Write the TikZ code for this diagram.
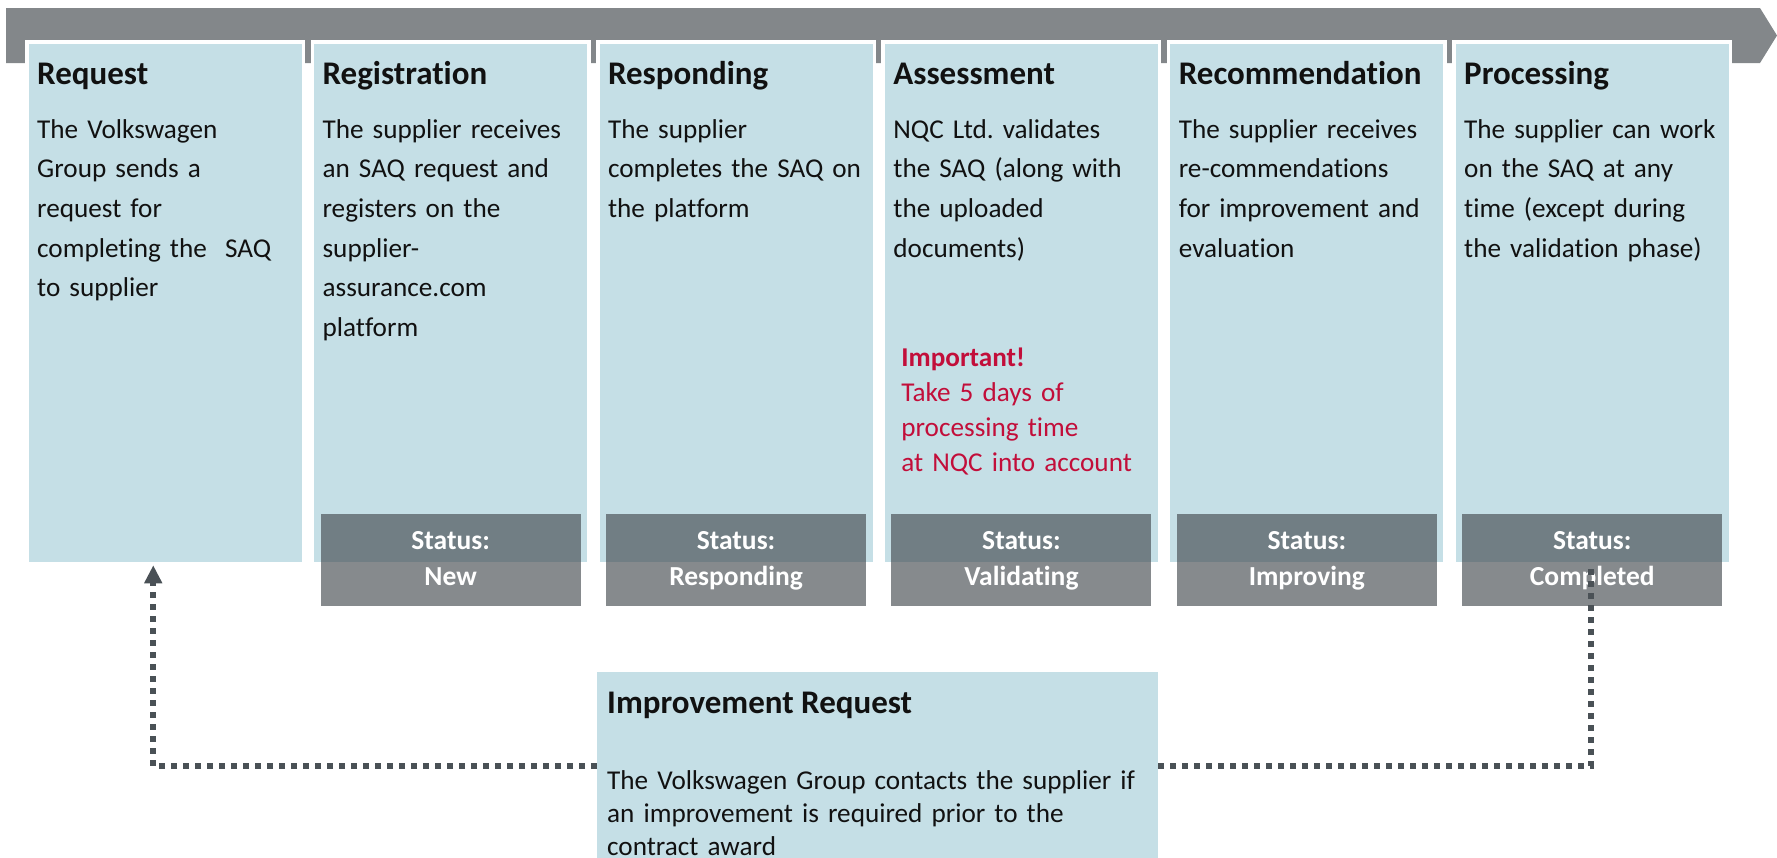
\documentclass[tikz,border=0pt]{standalone}
\usepackage{fontspec}
\setmainfont{Carlito}[Ligatures=NoCommon]
\usetikzlibrary{arrows.meta,positioning,calc}
\definecolor{barc}{HTML}{83878A}
\definecolor{stepc}{HTML}{C5DFE6}
\definecolor{statc}{HTML}{42484D}
\definecolor{dotc}{HTML}{4A5156}
\definecolor{alertc}{HTML}{C20E3A}
\definecolor{ink}{HTML}{111111}
\frenchspacing
\tikzset{
  stepbox/.style={anchor=north west, fill=stepc, draw=white, line width=3.5pt, inner sep=0pt, minimum width=276.5pt, minimum height=521.5pt},
  notebox/.style={anchor=north west, fill=stepc, inner sep=0pt, minimum width=561pt, minimum height=188pt},
  steptitle/.style={anchor=base west, inner sep=0pt, text=ink, font=\fontsize{33}{38}\selectfont\bfseries},
  stepbody/.style={anchor=base west, inner sep=0pt, text=ink, text width=290pt, align=left, font=\fontsize{27.2}{39.7}\selectfont},
  alertbody/.style={stepbody, text=alertc, font=\fontsize{27.2}{35}\selectfont},
  notebody/.style={stepbody, text width=560pt, font=\fontsize{27.2}{33}\selectfont},
  statusbox/.style={fill=statc, fill opacity=0.64, text opacity=1, text=white, inner sep=0pt, minimum width=260pt, minimum height=92pt, align=center, font=\fontsize{27.5}{36}\selectfont\bfseries},
  dotline/.style={draw=dotc, line width=6pt, dash pattern=on 6pt off 6pt},
}
\begin{document}
\begin{tikzpicture}[x=1pt, y=-1pt]
  \clip (0,0) rectangle (1777,857);
  % process bar
  \fill[barc] (6,8) -- (1760,8) -- (1777,35.5) -- (1760,63) -- (6,63) -- cycle;
  \foreach \i/\nm/\ttl in {0/req/Request, 1/reg/Registration, 2/resp/Responding, 3/assess/Assessment, 4/recom/Recommendation, 5/proc/Processing} {
    \node[stepbox] (\nm) at (25.25+285.4*\i, 40.25) {};
    \node[steptitle] (\nm-t) at (37+285.4*\i, 84) {\ttl};
  }
  \node[stepbody] (req-b) at ([yshift=-54pt]req-t.base west) {The Volkswagen\\Group sends a\\request for\\completing the\ \ SAQ\\to supplier};
  \node[stepbody] (reg-b) at ([yshift=-54pt]reg-t.base west) {The supplier receives\\an SAQ request and\\registers on the\\supplier-\\assurance.com\\platform};
  \node[stepbody] (resp-b) at ([yshift=-54pt]resp-t.base west) {The supplier\\completes the SAQ on\\the platform};
  \node[stepbody] (assess-b) at ([yshift=-54pt]assess-t.base west) {NQC Ltd. validates\\the SAQ (along with\\the uploaded\\documents)};
  \node[alertbody] (assess-w) at ([xshift=8pt, yshift=-228pt]assess-b.base west) {\textbf{Important!}\\Take 5 days of\\processing time\\at NQC into account};
  \node[stepbody] (recom-b) at ([yshift=-54pt]recom-t.base west) {The supplier receives\\re-commendations\\for improvement and\\evaluation};
  \node[stepbody] (proc-b) at ([yshift=-54pt]proc-t.base west) {The supplier can work\\on the SAQ at any\\time (except during\\the validation phase)};
  % status labels
  \foreach \nm/\st in {reg/New, resp/Responding, assess/Validating, recom/Improving, proc/Completed}
    \node[statusbox] (\nm-s) at (\nm.center |- 0,560) {\strut Status:\\\strut \st};
  % improvement request
  \node[notebox] (impr) at (597,672) {};
  \node[steptitle] (impr-t) at (607,713) {Improvement Request};
  \node[notebody] (impr-b) at ([yshift=-76pt]impr-t.base west) {The Volkswagen Group contacts the supplier if\\an improvement is required prior to the\\contract award};
  \coordinate (done) at (1591,567);
  \draw[dotline, -{Triangle[length=18pt, width=17pt]}] (impr.west) -| ([xshift=-12pt]req.south);
  \draw[dotline] (impr.east) -| (done);
\end{tikzpicture}
\end{document}
